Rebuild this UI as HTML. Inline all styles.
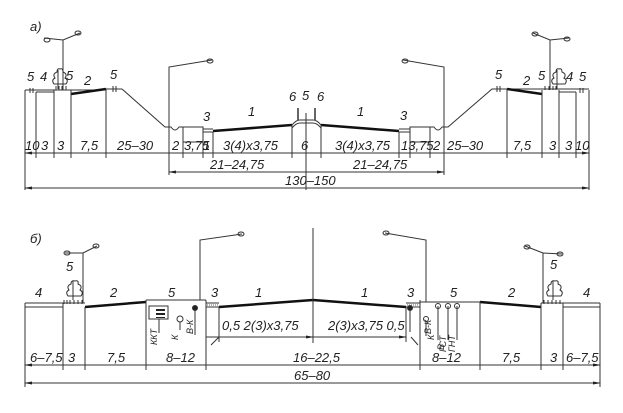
<!DOCTYPE html>
<html><head><meta charset="utf-8"><style>
html,body{margin:0;padding:0;background:#fff;}
svg{display:block;}
text{font-family:"Liberation Sans",sans-serif;font-style:italic;font-size:13px;fill:#222;}
.s{font-size:9px;}
</style></head><body>
<svg width="623" height="413" viewBox="0 0 623 413" xmlns="http://www.w3.org/2000/svg">
<defs>
<marker id="a" markerWidth="8" markerHeight="6" refX="7" refY="3" orient="auto-start-reverse"><path d="M0,1.5 L8,3 L0,4.5z" fill="#222"/></marker>
</defs>
<g stroke="#333" stroke-width="1" fill="none">
<!-- ===== a) ===== -->
<!-- ground left -->
<path d="M25,90 H106 M36,92 H54 M122,89 L165,127 H171 Q175,133 179,127 H183"/>
<path d="M71,94 L106,89" stroke-width="2.5" stroke="#111"/>
<path d="M30,88 v5 M33,88 v5 M113,86 v6 M116,86 v6"/>
<path d="M106,89 H122"/>
<rect x="183" y="127" width="20" height="15"/>
<path d="M203,129 H213 M203,132 H213"/>
<path d="M213,131 L292,125" stroke-width="2.5" stroke="#111"/>
<path d="M292,125 Q296,120 300,120 H313 Q317,120 321,125"/>
<path d="M292,128 Q296,123 300,123 H313 Q317,123 321,128"/>
<path d="M298,108 v12 M315,108 v12" stroke-width="1.5"/>
<!-- right side -->
<path d="M321,125 L399,131" stroke-width="2.5" stroke="#111"/>
<path d="M399,129 H410 M399,132 H410"/>
<rect x="410" y="127" width="20" height="15"/>
<path d="M430,127 H434 Q438,133 442,127 H448 L492,89 H507 M507,89 H589 M559,92 H576"/>
<path d="M507,89 L542,94" stroke-width="2.5" stroke="#111"/>
<path d="M497,86 v6 M500,86 v6 M580,88 v5 M583,88 v5"/>
<!-- verticals -->
<path d="M25,90 V190 M36,92 V158 M54,90 V158 M71,90 V158 M106,89 V158 M169,127 V175 M183,140 V158 M203,140 V158 M213,132 V158 M292,125 V158 M306,113 V190 M321,125 V158 M399,132 V158 M410,140 V158 M430,140 V158 M444,127 V175 M507,89 V158 M542,90 V158 M559,90 V158 M576,92 V158 M589,90 V190"/>
<!-- dims -->
<path d="M25,153 H589" marker-start="url(#a)" marker-end="url(#a)"/>
<path d="M169,172 H444" marker-start="url(#a)" marker-end="url(#a)"/>
<path d="M25,188 H589" marker-start="url(#a)" marker-end="url(#a)"/>
<!-- lamps -->
<path d="M63,90 V40 M44,38 L63,40 L80,33 M169,127 V67 L212,60 M444,127 V67 L403,60 M550,90 V40 M533,33 L550,40 L569,38"/>
<ellipse cx="47" cy="40" rx="3" ry="2"/><ellipse cx="78" cy="33" rx="3" ry="2"/>
<ellipse cx="210" cy="61" rx="3" ry="2"/><ellipse cx="405" cy="61" rx="3" ry="2"/>
<ellipse cx="535" cy="34" rx="3" ry="2"/><ellipse cx="567" cy="39" rx="3" ry="2"/>
<!-- trees -->
<path d="M58,89 V70 M54,84 q-3,-4 1,-6 q-3,-4 2,-6 q0,-4 3,-3 q3,-1 3,3 q5,2 2,6 q4,2 1,6z"/>
<path d="M557,89 V70 M553,84 q-3,-4 1,-6 q-3,-4 2,-6 q0,-4 3,-3 q3,-1 3,3 q5,2 2,6 q4,2 1,6z"/>
<path d="M56,86 v4 M59,86 v4 M62,86 v4 M66,86 v4 M545,86 v4 M549,86 v4 M553,86 v4 M556,86 v4"/>

<!-- ===== б) ===== -->
<path d="M25,303 H63 M25,307 H63 M63,303 H85 M420,302 H480 M541,303 H563 M563,303 H600 M563,307 H600"/>
<path d="M85,307 L146,302" stroke-width="2.5" stroke="#111"/>
<path d="M480,302 L541,307" stroke-width="2.5" stroke="#111"/>
<path d="M146,300 H206 M206,303 H219 M206,307 H219 M406,303 H420 M406,307 H420"/>
<path d="M219,307 L313,300 L406,307" stroke-width="2.5" stroke="#111"/>
<path d="M25,303 V387 M63,303 V370 M85,307 V370 M146,300 V370 M206,300 V370 M219,307 V342 M313,228 V343 M406,307 V342 M420,300 V370 M480,302 V370 M541,303 V370 M563,303 V370 M600,303 V387"/>
<path d="M206,337 H313" marker-end="url(#a)"/>
<path d="M313,337 H406" marker-end="url(#a)"/>
<path d="M211,345 L219,337 M411,337 L418,345"/>
<path d="M25,365 H600" marker-start="url(#a)" marker-end="url(#a)"/>
<path d="M25,383 H600" marker-start="url(#a)" marker-end="url(#a)"/>
<!-- lamps -->
<path d="M83,303 V253 M65,253 L83,253 L97,246 M200,300 V240 L242,234 M426,302 V240 L385,233 M543,303 V253 L525,246 M543,253 L562,254"/>
<ellipse cx="67" cy="253" rx="3" ry="2"/><ellipse cx="96" cy="246" rx="3" ry="2"/>
<ellipse cx="241" cy="234" rx="3" ry="2"/><ellipse cx="386" cy="233" rx="3" ry="2"/>
<ellipse cx="527" cy="247" rx="3" ry="2"/><ellipse cx="560" cy="254" rx="3" ry="2"/>
<!-- trees -->
<path d="M73,300 V281 M68,296 q-3,-4 1,-6 q-3,-4 2,-6 q0,-4 4,-3 q4,-1 3,3 q5,2 2,6 q4,2 1,6z"/>
<path d="M553,300 V281 M548,296 q-3,-4 1,-6 q-3,-4 2,-6 q0,-4 4,-3 q4,-1 3,3 q5,2 2,6 q4,2 1,6z"/>
<path d="M64,300 v4 M67,300 v4 M70,300 v4 M74,300 v4 M78,300 v4 M82,300 v4 M544,300 v4 M548,300 v4 M552,300 v4 M556,300 v4 M560,300 v4"/>
<!-- equipment -->
<rect x="149" y="306" width="19" height="13"/>
<path d="M159,319 V333 M180,322 V330 M195,310 V335 M410,310 V332 M426,322 V336 M438,306 V340 M448,306 V340 M457,306 V340"/>
<circle cx="180" cy="319" r="3"/><circle cx="195" cy="308" r="2.5" fill="#222"/>
<circle cx="410" cy="308" r="2.5" fill="#222"/><circle cx="426" cy="319" r="2.5"/>
<circle cx="438" cy="306" r="2.5"/><circle cx="448" cy="306" r="2.5"/><circle cx="457" cy="306" r="2.5"/>
</g>
<g fill="#222"><rect x="156" y="309" width="9" height="2"/><rect x="156" y="313" width="9" height="2"/><rect x="156" y="317" width="9" height="1"/></g>
<g fill="none" stroke="#666" stroke-dasharray="1,1"><path d="M207,305 H218 M407,305 H419"/></g>

<!-- text a -->
<text x="30" y="31" font-size="15">а)</text>
<text x="27" y="81">5</text><text x="40" y="81">4</text><text x="66" y="80">5</text>
<text x="84" y="85">2</text><text x="110" y="79">5</text>
<text x="203" y="121">3</text><text x="248" y="116">1</text>
<text x="289" y="101">6</text><text x="302" y="100">5</text><text x="317" y="101">6</text>
<text x="357" y="116">1</text><text x="400" y="120">3</text>
<text x="495" y="79">5</text><text x="523" y="85">2</text><text x="538" y="80">5</text><text x="566" y="81">4</text><text x="579" y="81">5</text>
<text x="25" y="150">10</text><text x="41" y="150">3</text><text x="57" y="150">3</text>
<text x="80" y="150">7,5</text><text x="117" y="150">25–30</text>
<text x="172" y="150">2</text><text x="184" y="150" class="" font-size="12">3,75</text><text x="203" y="150">1</text>
<text x="223" y="150">3(4)x3,75</text><text x="301" y="150">6</text>
<text x="335" y="150">3(4)x3,75</text><text x="401" y="150" font-size="12">13,75</text><text x="433" y="150">2</text>
<text x="447" y="150">25–30</text><text x="513" y="150">7,5</text>
<text x="549" y="150">3</text><text x="565" y="150">3</text><text x="575" y="150">10</text>
<text x="210" y="169">21–24,75</text><text x="353" y="169">21–24,75</text>
<text x="285" y="185">130–150</text>

<!-- text b -->
<text x="30" y="243" font-size="15">б)</text>
<text x="66" y="271">5</text><text x="35" y="297">4</text><text x="110" y="297">2</text>
<text x="168" y="297">5</text><text x="211" y="297">3</text><text x="255" y="297">1</text>
<text x="361" y="297">1</text><text x="407" y="297">3</text><text x="450" y="297">5</text>
<text x="508" y="297">2</text><text x="550" y="269">5</text><text x="583" y="297">4</text>
<text x="222" y="330">0,5 2(3)x3,75</text>
<text x="328" y="330">2(3)x3,75 0,5</text>
<text x="30" y="362">6–7,5</text><text x="68" y="362">3</text><text x="107" y="362">7,5</text>
<text x="166" y="362">8–12</text><text x="293" y="362">16–22,5</text>
<text x="432" y="362">8–12</text><text x="502" y="362">7,5</text>
<text x="550" y="362">3</text><text x="566" y="362">6–7,5</text>
<text x="294" y="380">65–80</text>
<g class="s">
<text transform="translate(157,345) rotate(-90)" class="s">ККТ</text>
<text transform="translate(178,340) rotate(-90)" class="s">К</text>
<text transform="translate(193,334) rotate(-90)" class="s">В-К</text>
<text transform="translate(431,334) rotate(-90)" class="s">В-К</text>
<text transform="translate(434,340) rotate(-90)" class="s">К</text>
<text transform="translate(436,350) rotate(-90)" class="s" dy="8">В</text>
<text transform="translate(446,352) rotate(-90)" class="s">ГСТ</text>
<text transform="translate(455,352) rotate(-90)" class="s">ГНТ</text>
</g>
</svg>
</body></html>
